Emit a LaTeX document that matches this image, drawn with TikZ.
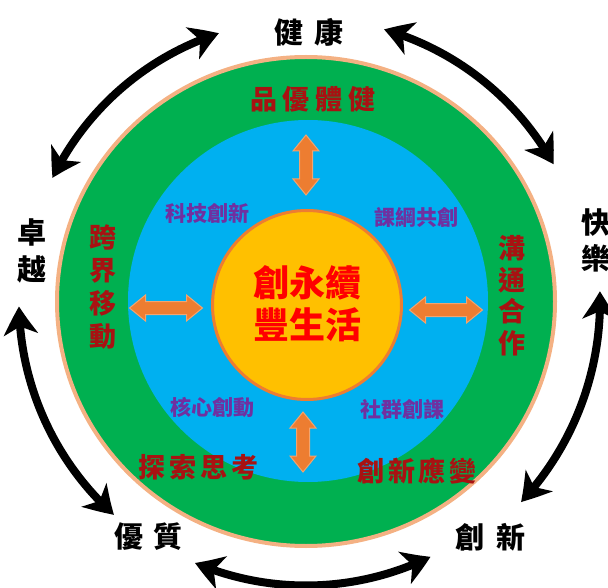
\documentclass[tikz,border=0pt]{standalone}
\usepackage{fontspec}
\newfontfamily\cjk{Noto Sans CJK TC}
\usetikzlibrary{arrows.meta,bending}
\definecolor{ringgreen}{HTML}{00B050}
\definecolor{ringblue}{HTML}{00B0F0}
\definecolor{ringtan}{HTML}{F4B183}
\definecolor{coreyellow}{HTML}{FFC000}
\definecolor{coreorange}{HTML}{ED7D31}
\definecolor{arrorange}{HTML}{ED7D31}
\definecolor{darkred}{HTML}{A81212}
\definecolor{purp}{HTML}{7030A0}
\begin{document}
\begin{tikzpicture}[x=1pt,y=1pt,
  every node/.style={inner sep=0pt, outer sep=0pt, font=\cjk},
  bigarrow/.style={line width=8pt,
    {Stealth[length=28pt,width=34pt,inset=8pt,bend]}-{Stealth[length=28pt,width=34pt,inset=8pt,bend]}},
  outerlabel/.style={font=\cjk\bfseries\fontsize{29}{37}\selectfont, text=black, align=center},
  ringlabel/.style={font=\cjk\bfseries\fontsize{27}{33}\selectfont, text=darkred, align=center},
  bluelabel/.style={font=\cjk\bfseries\fontsize{21}{25}\selectfont, text=purp},
  corelabel/.style={font=\cjk\bfseries\fontsize{36}{42}\selectfont, text=red, align=center},
  pics/dblarr/.style={code={
    \fill[arrorange, draw=arrorange!70!white, line width=1pt]
      (-#1/2,0) -- (-#1/2+16,13) -- (-#1/2+16,6.5) -- (#1/2-16,6.5) -- (#1/2-16,13)
      -- (#1/2,0) -- (#1/2-16,-13) -- (#1/2-16,-6.5) -- (-#1/2+16,-6.5) -- (-#1/2+16,-13) -- cycle;
  }}
]
\useasboundingbox (0,0) rectangle (608,-588);
\coordinate (c) at (306,-301.5);

% rings
\filldraw[fill=ringgreen, draw=ringtan, line width=4pt] (c) ellipse [x radius=249, y radius=244.5];
\fill[ringblue] (308,-301) ellipse [x radius=180, y radius=181];
\node[circle, fill=coreyellow, draw=coreorange, line width=3pt, minimum size=189pt] (core) at (307,-305) {};

% orange double arrows
\coordinate (up) at (306,-165);
\coordinate (dn) at (303,-442);
\coordinate (lf) at (166,-308);
\coordinate (rt) at (446,-310);
\pic[rotate=90] at (up) {dblarr=60};
\pic[rotate=90] at (dn) {dblarr=60};
\pic at (lf) {dblarr=73};
\pic at (rt) {dblarr=73};

% core text
\node[corelabel] (coretext) at (307.5,-304) {創永續\\豐生活};

% blue ring labels
\node[bluelabel] (b1) at (207.5,-213) {科技創新};
\node[bluelabel] (b2) at (416,-217) {課綱共創};
\node[bluelabel] (b3) at (212,-407) {核心創動};
\node[bluelabel] (b4) at (402,-409) {社群創課};

% green ring labels
\node[ringlabel] (g1) at (313,-99) {品\hspace{6pt}優\hspace{6pt}體\hspace{6pt}健};
\node[ringlabel] (g2) at (103,-286.5) {跨\\界\\移\\動};
\node[ringlabel, font=\cjk\bfseries\fontsize{27}{31.5}\selectfont] (g3) at (512,-295.5) {溝\\通\\合\\作};
\node[ringlabel] (g4) at (198.5,-467) {探\hspace{4pt}索\hspace{4pt}思\hspace{4pt}考};
\node[ringlabel] (g5) at (417,-471) {創\hspace{3.5pt}新\hspace{3.5pt}應\hspace{3.5pt}變};

% outer labels
\node[outerlabel] (health) at (309,-32) {健\hspace{11pt}康};
\node[outerlabel] (excel) at (32,-251) {卓\\越};
\node[outerlabel, font=\cjk\bfseries\fontsize{29}{36}\selectfont] (happy) at (596,-240) {快\\樂};
\node[outerlabel] (quality) at (148.5,-537) {優\hspace{10pt}質};
\node[outerlabel] (innov) at (490.5,-537) {創\hspace{12pt}新};

% black curved double arrows
\path (c) ++(108:282) coordinate (a1s);
\draw[bigarrow] (a1s) arc[start angle=108, end angle=154, radius=282];
\path (c) ++(74:283) coordinate (a2s);
\draw[bigarrow] (a2s) arc[start angle=74, end angle=29, radius=283];
\path (c) ++(2:294) coordinate (a3s);
\draw[bigarrow] (a3s) arc[start angle=2, end angle=-43, radius=294];
\path (c) ++(-113:284) coordinate (a4s);
\draw[bigarrow] (a4s) arc[start angle=-113, end angle=-64, radius=284];
\path (c) ++(181:287) coordinate (a5s);
\draw[bigarrow] (a5s) arc[start angle=181, end angle=228, radius=287];
\end{tikzpicture}
\end{document}
